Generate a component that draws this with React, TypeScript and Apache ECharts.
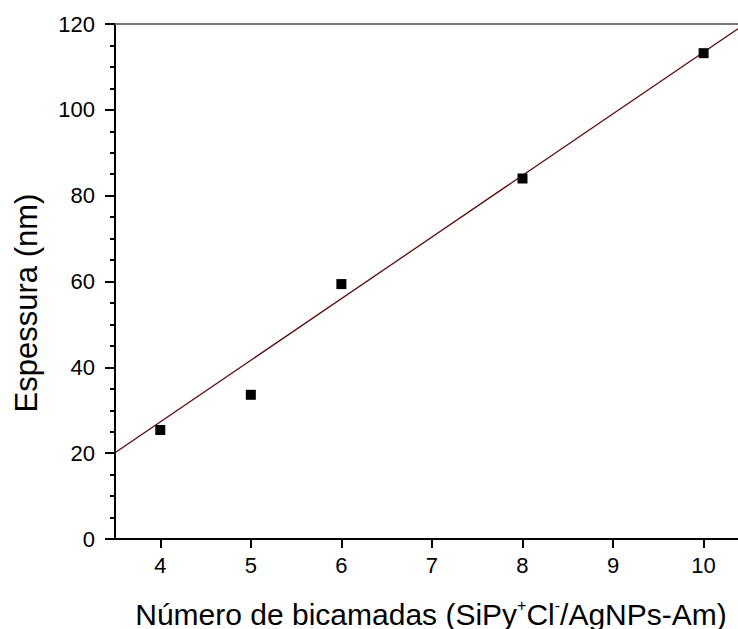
import React, { useEffect, useRef } from "react";
import * as echarts from "echarts";

const layers = [4, 5, 6, 8, 10];
const thickness = [25.4, 33.6, 59.4, 84.0, 113.2];
const fitX = [3.5, 10.38];
const fitY = [20.1, 118.9];
const xTicks = [4, 5, 6, 7, 8, 9, 10];
const yTicks = [0, 20, 40, 60, 80, 100, 120];

const FONT = "'Liberation Sans', Arial, Helvetica, sans-serif";

export default function App() {
  const ref = useRef<HTMLDivElement>(null);
  useEffect(() => {
    document.body.style.margin = "0";
    const chart = echarts.init(ref.current!, null, { renderer: "svg" });
    const option: any = {
      animation: false,
      backgroundColor: "#ffffff",
      grid: { left: 115, right: 0, top: 24, bottom: 90, containLabel: false },
      xAxis: [
        {
          type: "value",
          min: fitX[0],
          max: fitX[1],
          position: "bottom",
          splitLine: { show: false },
          axisLine: { show: true, onZero: false, lineStyle: { color: "#000", width: 2 } },
          axisTick: {
            show: true,
            inside: false,
            length: 9,
            customValues: xTicks,
            lineStyle: { color: "#000", width: 2 },
          },
          axisLabel: {
            show: true,
            customValues: xTicks,
            margin: 15,
            color: "#000",
            fontSize: 22,
            fontFamily: FONT,
          },
        },
        {
          type: "value",
          min: fitX[0],
          max: fitX[1],
          position: "top",
          splitLine: { show: false },
          axisLine: { show: true, onZero: false, lineStyle: { color: "#777", width: 2 } },
          axisTick: { show: false },
          axisLabel: { show: false },
        },
      ],
      yAxis: {
        type: "value",
        min: yTicks[0],
        max: yTicks[yTicks.length - 1],
        interval: 20,
        splitLine: { show: false },
        axisLine: { show: true, onZero: false, lineStyle: { color: "#000", width: 2 } },
        axisTick: { show: true, inside: false, length: 10, lineStyle: { color: "#000", width: 2 } },
        minorTick: { show: true, splitNumber: 4, length: 5, lineStyle: { color: "#000", width: 2 } },
        axisLabel: { margin: 20, color: "#000", fontSize: 22, fontFamily: FONT },
      },
      graphic: [
        {
          type: "text",
          x: 26,
          y: 303,
          rotation: Math.PI / 2,
          style: {
            text: "Espessura (nm)",
            fill: "#000",
            font: `31px ${FONT}`,
            align: "center",
            verticalAlign: "middle",
          },
        },
        {
          type: "text",
          x: 431,
          y: 614,
          style: {
            text: "Número de bicamadas (SiPy{sup|+}Cl{sup|-}/AgNPs-Am)",
            fill: "#000",
            fontSize: 30,
            fontFamily: FONT,
            lineHeight: 34,
            align: "center",
            verticalAlign: "middle",
            rich: {
              sup: {
                fontSize: 16,
                fontFamily: FONT,
                fill: "#000",
                lineHeight: 16,
                verticalAlign: "top",
              },
            },
          },
        },
      ],
      series: [
        {
          type: "line",
          xAxisIndex: 0,
          data: fitX.map((x, i) => [x, fitY[i]]),
          showSymbol: false,
          symbol: "none",
          lineStyle: { color: "#5c0a0a", width: 1.3 },
          z: 2,
        },
        {
          type: "scatter",
          xAxisIndex: 0,
          data: layers.map((x, i) => [x, thickness[i]]),
          symbol: "rect",
          symbolSize: 10,
          itemStyle: { color: "#000", opacity: 1 },
          z: 3,
        },
      ],
    };
    chart.setOption(option);
    return () => chart.dispose();
  }, []);
  return (
    <div
      ref={ref}
      style={{ position: "absolute", left: 0, top: 0, width: 738, height: 629 }}
    />
  );
}
